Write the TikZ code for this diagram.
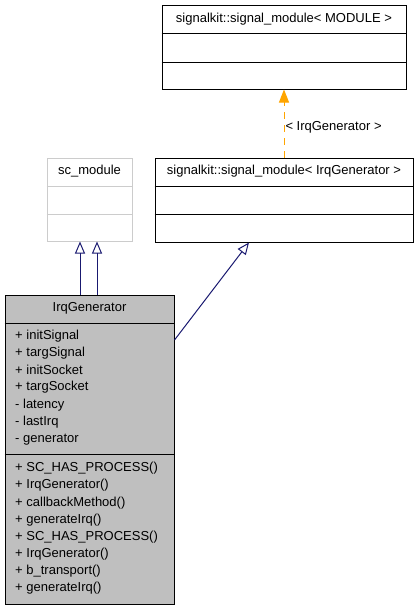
\documentclass[tikz,border=0pt]{standalone}
\usepackage{fontspec}
\setmainfont{Liberation Sans}
\usetikzlibrary{arrows.meta,positioning,calc}
\definecolor{UML-GRAY}{RGB}{191, 191, 191}
\definecolor{UML-LIGHT}{RGB}{204, 204, 204}
\definecolor{UML-NAVY}{RGB}{25, 25, 112}
\definecolor{UML-ORANGE}{RGB}{255, 165, 0}

\tikzset{
  classbox/.style={draw=black, line width=1pt, inner sep=0pt},
  member/.style={anchor=west, inner sep=0pt, font=\fontsize{13}{15}\selectfont},
  title/.style={inner sep=0pt, font=\fontsize{13}{15}\selectfont},
  inherit/.style={-{Triangle[open, length=12pt, width=10pt]}, UML-NAVY, line width=1pt},
  tmpl/.style={-{Triangle[length=13pt, width=10pt]}, UML-ORANGE, line width=1pt, dash pattern=on 7pt off 6pt}
}

\begin{document}
\begin{tikzpicture}[x=1pt, y=-1pt]
  \useasboundingbox (0,0) rectangle (417,611);

  % Template base class
  \node[classbox, minimum width=244pt, minimum height=84pt] (sigmod) at (284,47) {};
  \node[title] (sigmodname) at (284,19) {signalkit::signal\_module< MODULE >};
  \draw[line width=1pt] (sigmod.west |- 0,33) -- (sigmod.east |- 0,33);
  \draw[line width=1pt] (sigmod.west |- 0,62) -- (sigmod.east |- 0,62);

  % Instantiated template
  \node[classbox, minimum width=258pt, minimum height=84pt] (sigirq) at (284,200) {};
  \node[title] (sigirqname) at (284,171) {signalkit::signal\_module< IrqGenerator >};
  \draw[line width=1pt] (sigirq.west |- 0,186) -- (sigirq.east |- 0,186);
  \draw[line width=1pt] (sigirq.west |- 0,214) -- (sigirq.east |- 0,214);

  % sc_module (external)
  \node[classbox, draw=UML-LIGHT, minimum width=85pt, minimum height=83pt] (scmod) at (89.5,199.5) {};
  \node[title] (scmodname) at (89.5,171) {sc\_module};
  \draw[UML-LIGHT, line width=1pt] (scmod.west |- 0,186) -- (scmod.east |- 0,186);
  \draw[UML-LIGHT, line width=1pt] (scmod.west |- 0,214) -- (scmod.east |- 0,214);

  % IrqGenerator
  \node[classbox, fill=UML-GRAY, minimum width=169pt, minimum height=309pt] (irq) at (89.5,449.5) {};
  \node[title] (irqname) at (89.5,308) {IrqGenerator};
  \draw[line width=1pt] (irq.west |- 0,323) -- (irq.east |- 0,323);
  \draw[line width=1pt] (irq.west |- 0,454) -- (irq.east |- 0,454);

  % Attributes
  \foreach \txt [count=\i] in {+ initSignal, + targSignal, + initSocket, + targSocket,
      - latency, - lastIrq, - generator}
    \node[member] (attr\i) at (15, 318.4+17.3*\i) {\txt};

  % Methods
  \foreach \txt [count=\i] in {+ SC\_HAS\_PROCESS(), + IrqGenerator(), + callbackMethod(),
      + generateIrq(), + SC\_HAS\_PROCESS(), + IrqGenerator(), + b\_transport(), + generateIrq()}
    \node[member] (meth\i) at (15, 451.2+17.15*\i) {\txt};

  % Inheritance
  \draw[inherit] (irq.north -| 80,0) -- (scmod.south -| 80,0);
  \draw[inherit] (irq.north -| 97,0) -- (scmod.south -| 97,0);
  \draw[inherit] (irq.east |- 0,340) -- (sigirq.south -| 249,0);

  % Template instantiation
  \draw[tmpl] (sigirq.north) -- (sigmod.south)
    node[pos=0.45, right=0pt, inner sep=1pt, black, font=\fontsize{13}{15}\selectfont] (tmplarg) {< IrqGenerator >};
\end{tikzpicture}
\end{document}
